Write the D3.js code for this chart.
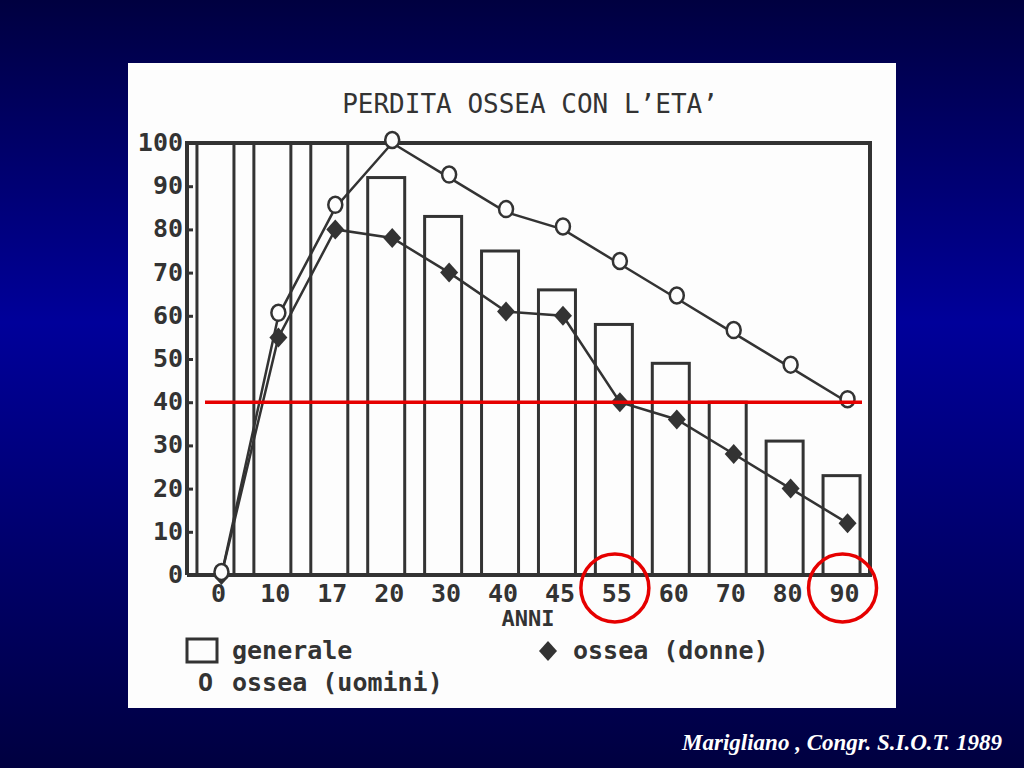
<!DOCTYPE html>
<html>
<head>
<meta charset="utf-8">
<script src="https://cdn.jsdelivr.net/npm/d3@7"></script>
<style>
  body { margin: 0; background: #000044; }
  svg { display: block; }
  .lbl { font-family: "DejaVu Sans Mono", monospace; fill: #333; font-weight: bold; }
</style>
</head>
<body>
<script>
// data
var categories = ["0", "10", "17", "20", "30", "40", "45", "55", "60", "70", "80", "90"];
var generale = [100, 100, 100, 92, 83, 75, 66, 58, 49, 40, 31, 23];
var uomini   = [0, 60, 85, 100, 92, 84, 80, 72, 64, 56, 48, 40];
var donne    = [0, 55, 80, 78, 70, 61, 60, 40, 36, 28, 20, 12];
var yTicks   = [0, 10, 20, 30, 40, 50, 60, 70, 80, 90, 100];
var soglia   = 40;
var cerchiati = ["55", "90"];

function draw() {
  var W = 1024, H = 768;
  var svg = d3.select("body").append("svg").attr("width", W).attr("height", H);

  // background gradient
  var grad = svg.append("defs").append("linearGradient")
      .attr("id", "bg").attr("x1", 0).attr("y1", 0).attr("x2", 0).attr("y2", 1);
  grad.append("stop").attr("offset", "0%").attr("stop-color", "#000040");
  grad.append("stop").attr("offset", "42%").attr("stop-color", "#00009a");
  grad.append("stop").attr("offset", "100%").attr("stop-color", "#000040");
  svg.append("rect").attr("width", W).attr("height", H).attr("fill", "url(#bg)");

  // white picture panel
  svg.append("rect").attr("x", 128).attr("y", 63).attr("width", 768).attr("height", 645).attr("fill", "#fdfdfd");

  var pl = 187, pr = 870, pt = 143, pb = 575;
  var x = d3.scaleBand().domain(categories).range([pl, pr]).paddingInner(0.35).paddingOuter(0.175);
  var y = d3.scaleLinear().domain([0, 100]).range([pb, pt]);
  var cx = function(c) { return x(c) + x.bandwidth() / 2; };
  var px = function(c) { return cx(c) + 6; };

  // title
  svg.append("text").attr("class", "lbl").attr("x", 530).attr("y", 113)
    .attr("text-anchor", "middle").style("font-size", "26px").style("font-weight", "normal")
    .text("PERDITA OSSEA CON L\u2019ETA\u2019");

  // bars (generale)
  svg.selectAll(".bar").data(categories).enter().append("rect")
    .attr("x", function(d) { return x(d); })
    .attr("width", x.bandwidth())
    .attr("y", function(d, i) { return y(generale[i]); })
    .attr("height", function(d, i) { return pb - y(generale[i]); })
    .attr("fill", "none").attr("stroke", "#333").attr("stroke-width", 3);

  // frame: left axis, top, right, bottom
  svg.append("path").attr("stroke", "#333").attr("fill", "none").attr("stroke-width", 4)
    .attr("d", "M" + pl + "," + pb + "V" + pt + "H" + pr + "V" + pb + "H" + pl);

  // y axis ticks inward
  var yAxis = svg.append("g").attr("transform", "translate(" + pl + ",0)")
    .call(d3.axisRight(y).tickValues(yTicks).tickSize(6).tickFormat(""));
  yAxis.select(".domain").remove();
  yAxis.selectAll("line").attr("stroke", "#333").attr("stroke-width", 3);

  svg.selectAll(".ylab").data(yTicks).enter().append("text")
    .attr("class", "lbl").attr("x", 183).attr("y", function(d) { return y(d) + 8; })
    .attr("text-anchor", "end").style("font-size", "25px")
    .text(function(d) { return d; });

  // x labels
  svg.selectAll(".xlab").data(categories).enter().append("text")
    .attr("class", "lbl").attr("x", function(d) { return cx(d) + 3; }).attr("y", 602)
    .attr("text-anchor", "middle").style("font-size", "25px")
    .text(function(d) { return d; });
  svg.append("text").attr("class", "lbl").attr("x", 528).attr("y", 626)
    .attr("text-anchor", "middle").style("font-size", "22px").text("ANNI");

  // lines
  var line = d3.line().x(function(d) { return px(d.c); }).y(function(d) { return y(d.v); });
  var uData = categories.map(function(c, i) { return { c: c, v: uomini[i] }; });
  var dData = categories.map(function(c, i) { return { c: c, v: donne[i] }; });

  svg.append("path").datum(uData).attr("d", line)
    .attr("fill", "none").attr("stroke", "#333").attr("stroke-width", 2.5);
  svg.append("path").datum(dData).attr("d", line)
    .attr("fill", "none").attr("stroke", "#333").attr("stroke-width", 2.5);

  var diamond = "M0,-10L9,0L0,10L-9,0Z";
  svg.selectAll(".dm").data(dData).enter().append("path")
    .attr("transform", function(d) { return "translate(" + px(d.c) + "," + y(d.v) + ")"; })
    .attr("d", diamond).attr("fill", "#333");
  svg.selectAll(".ci").data(uData).enter().append("ellipse")
    .attr("cx", function(d) { return px(d.c); }).attr("cy", function(d) { return y(d.v) - 3; })
    .attr("rx", 7).attr("ry", 8)
    .attr("fill", "#fdfdfd").attr("stroke", "#333").attr("stroke-width", 2.5);

  // legend
  svg.append("rect").attr("x", 187).attr("y", 639).attr("width", 30).attr("height", 23)
    .attr("fill", "none").attr("stroke", "#333").attr("stroke-width", 3);
  svg.append("text").attr("class", "lbl").attr("x", 232).attr("y", 659).style("font-size", "25px").text("generale");
  svg.append("path").attr("transform", "translate(548,651)").attr("d", diamond).attr("fill", "#333");
  svg.append("text").attr("class", "lbl").attr("x", 573).attr("y", 659).style("font-size", "25px").text("ossea (donne)");
  svg.append("text").attr("class", "lbl").attr("x", 198).attr("y", 691).style("font-size", "25px").text("O");
  svg.append("text").attr("class", "lbl").attr("x", 232).attr("y", 691).style("font-size", "25px").text("ossea (uomini)");

  // red annotations
  svg.append("line").attr("x1", 205).attr("x2", 862).attr("y1", y(soglia)).attr("y2", y(soglia))
    .attr("stroke", "#e60000").attr("stroke-width", 3.5);
  svg.selectAll(".rc").data(cerchiati).enter().append("circle")
    .attr("cx", function(d) { return cx(d) + 1; }).attr("cy", 588).attr("r", 34)
    .attr("fill", "none").attr("stroke", "#e60000").attr("stroke-width", 3.5);

  // source
  svg.append("text").attr("x", 1002).attr("y", 750).attr("text-anchor", "end")
    .style("font-family", "'Liberation Serif', serif").style("font-style", "italic")
    .style("font-weight", "bold").style("font-size", "23px").attr("fill", "#fff")
    .text("Marigliano , Congr. S.I.O.T. 1989");
}
draw();
</script>
</body>
</html>
